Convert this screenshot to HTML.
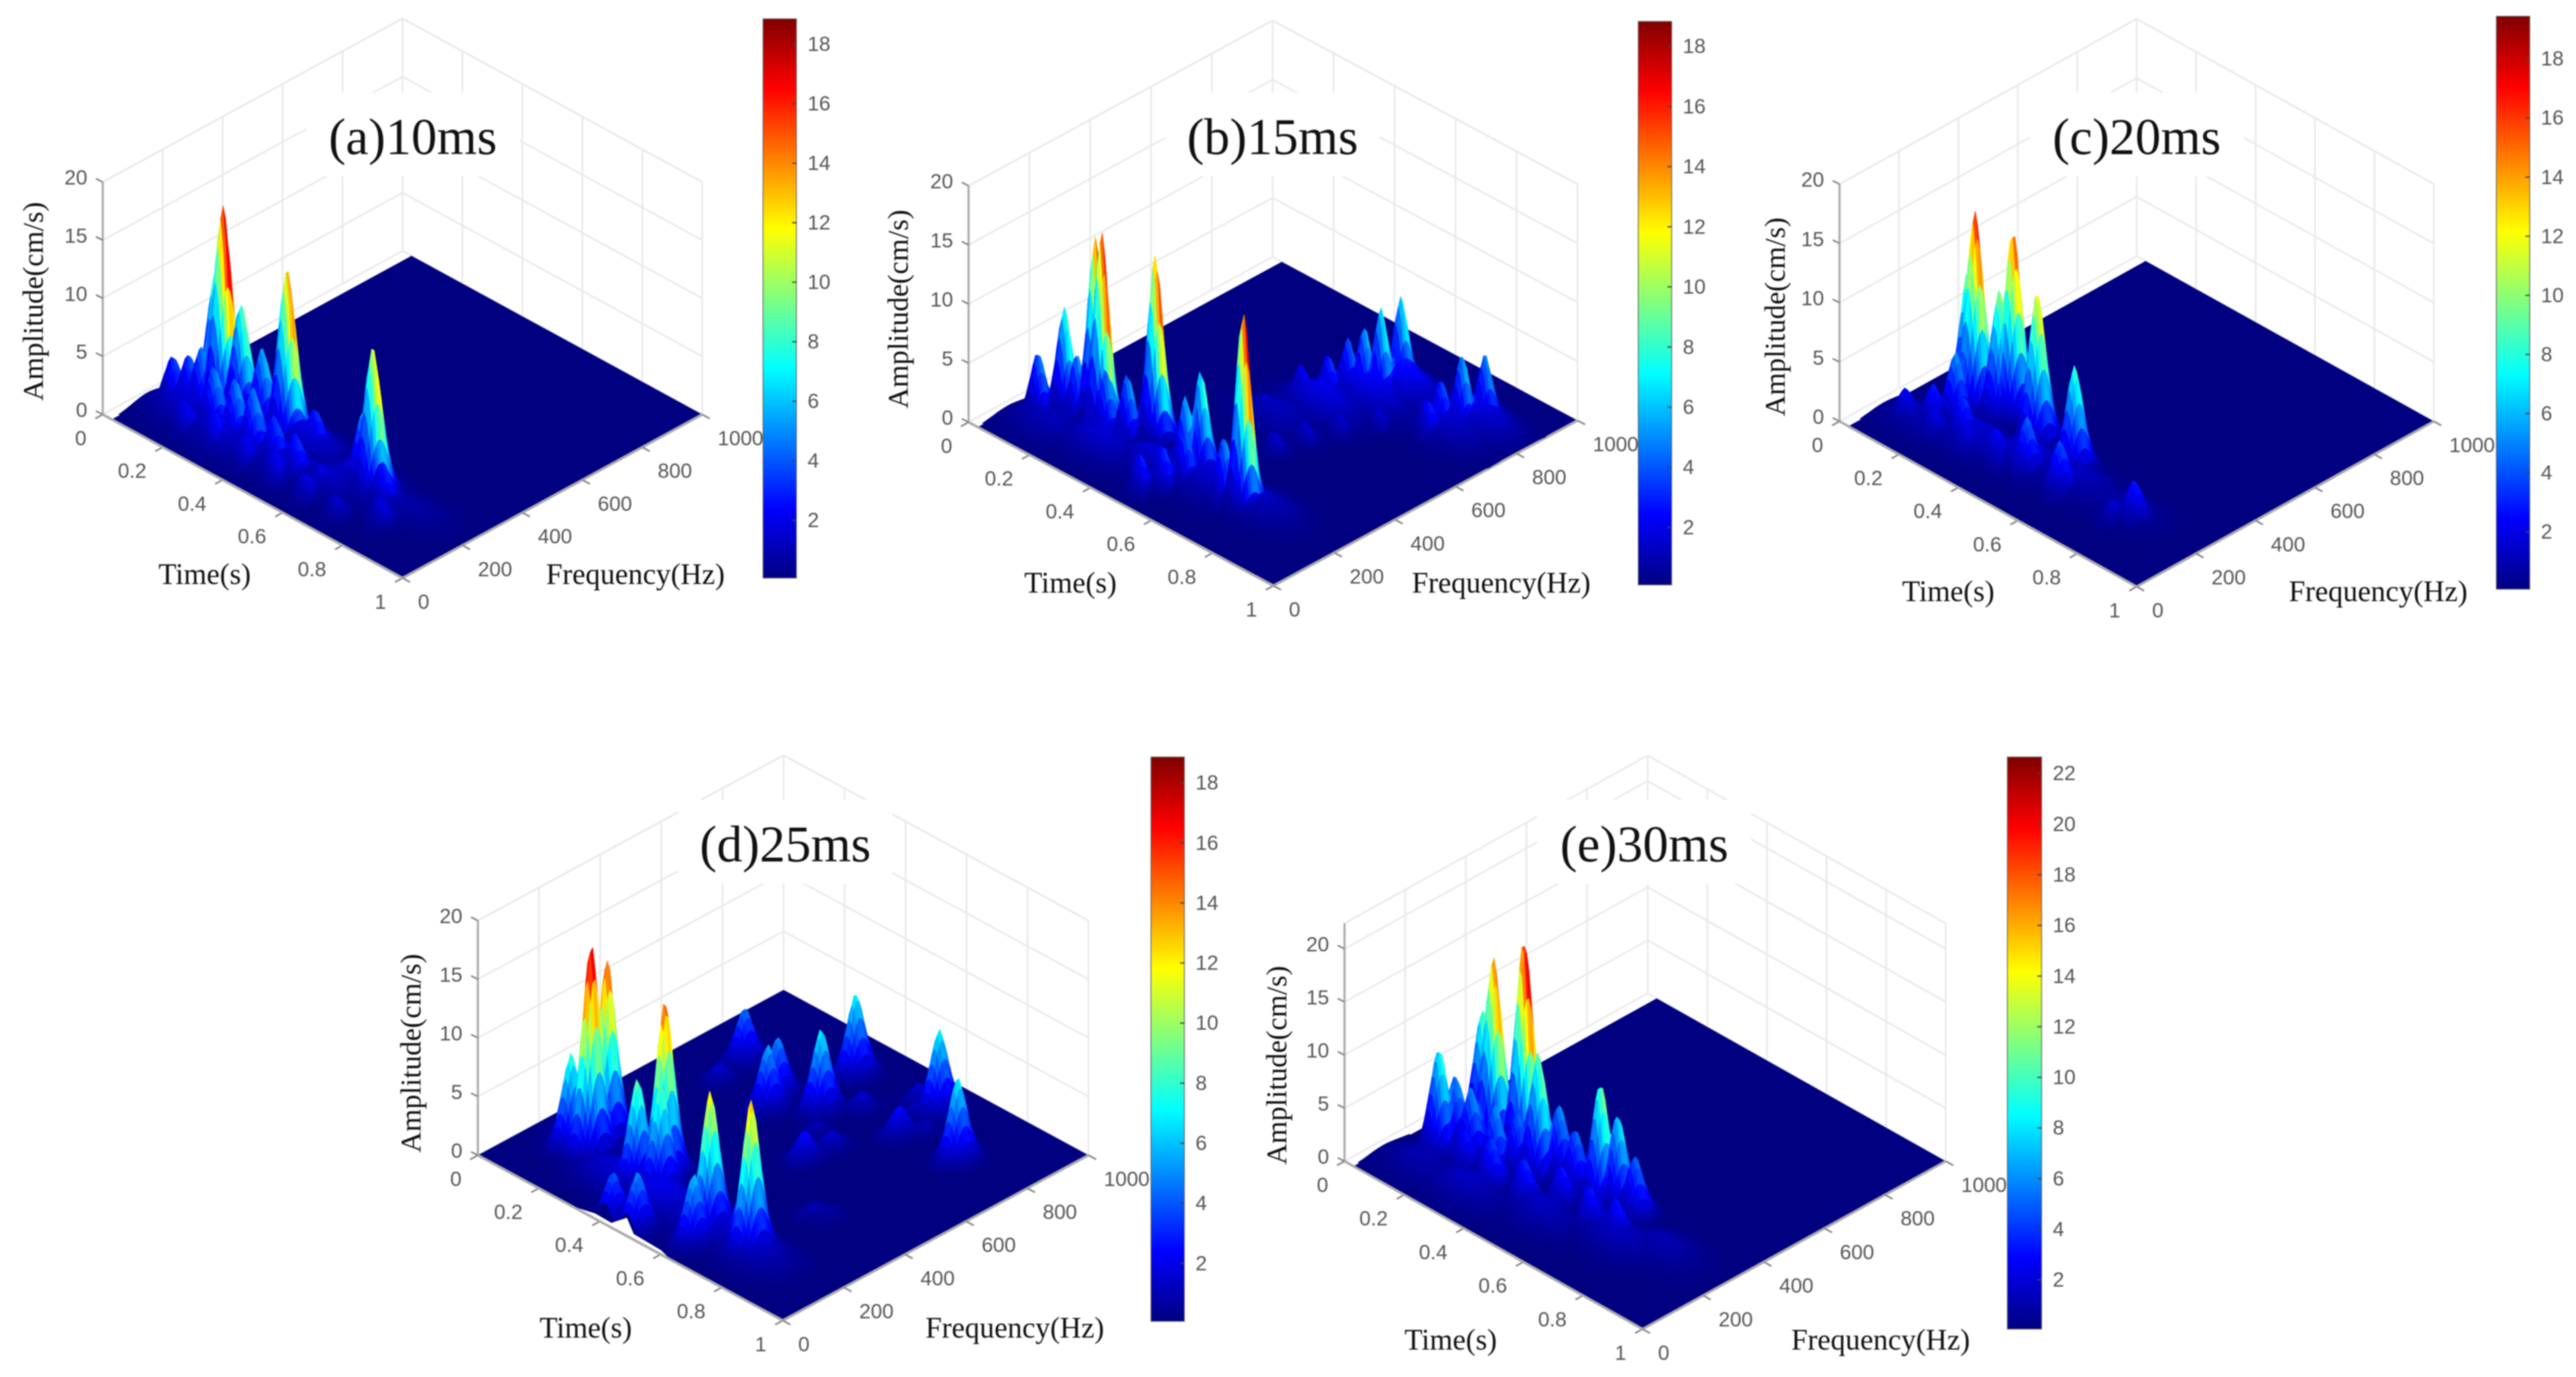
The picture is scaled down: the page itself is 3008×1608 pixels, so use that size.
<!DOCTYPE html>
<html lang="en">
<head>
<meta charset="utf-8">
<title>Time-frequency amplitude surfaces</title>
<style>
html,body{margin:0;padding:0;background:#fff;width:3008px;height:1608px;overflow:hidden}
svg{display:block;filter:blur(0.8px)}
.tick{font-family:"Liberation Sans",sans-serif;font-size:24px;fill:#555}
.axis-label{font-family:"Liberation Serif",serif;font-size:34.5px;fill:#111}
.amp-label{font-family:"Liberation Serif",serif;font-size:34px;fill:#111}
.title{font-family:"Liberation Serif",serif;font-size:60px;fill:#111}
</style>
</head>
<body>
<svg id="chart" xmlns="http://www.w3.org/2000/svg" width="3008" height="1608" viewBox="0 0 3008 1608"></svg>
<script>
const timeTicks=[0,0.2,0.4,0.6,0.8,1];
const freqTicks=[0,200,400,600,800,1000];
const ampTicks=[0,5,10,15,20];
const barTicks19=[2,4,6,8,10,12,14,16,18];
const barTicks23=[2,4,6,8,10,12,14,16,18,20,22];

const aPeakTimes=[.2,.17,.245,.31,.394,.476,.705,.096,.135,.17,.206,.25,.32,.38,.45,.52,.2,.3,.4,.5,.6,.7,.65,.676,.75,.6,.8];
const aPeakFreqs=[200,207,215,220,220,229,195,136,150,157,180,120,120,120,120,120,70,70,70,70,70,70,175,190,180,120,120];
const aPeakAmps=[18,12,10,7,15,4,13,4.5,5,6,5.5,6,6,6,4.5,4,3,3.5,3,3,2.5,2,3,7,4,2.5,2.5];
const aBedTimes=[.15,.3,.45,.6,.75,.25,.45,.65,.82];
const aBedFreqs=[120,100,120,140,180,200,220,200,200];
const aBedAmps=[2.2,2.5,2,1.8,1.5,3,2.5,2,1];

const bPeakTimes=[.246,.215,.366,.13,.096,.183,.28,.328,.545,.528,.718,.678,.53,.5,.553,.62,.62,.594,.55,.53,.48,.47,.84,.86,.81,.81,.6,.62,.65,.7];
const bPeakFreqs=[190,200,247,184,131,171,170,192,217,183,183,159,105,60,155,800,734,705,696,650,610,500,780,835,740,695,400,480,560,640];
const bPeakAmps=[17,16,16,9,5.5,6,6,6,9,7,17,6,4,3.5,5,8,8,6.5,5,4,3,2,6.5,6,4.5,3.5,2,2,2,2];
const bBedTimes=[.15,.3,.45,.6,.75,.5,.55,.6,.62,.82,.85];
const bBedFreqs=[100,120,150,180,200,500,600,700,780,740,810];
const bBedAmps=[1.5,2,2,2,1.5,1.5,2.5,3,3.5,2,2.5];

const cPeakTimes=[.2,.175,.283,.264,.405,.55,.2,.11,.17,.8,.766,.22,.275,.39,.48,.59,.21,.31,.41];
const cPeakFreqs=[255,260,300,274,260,240,190,110,144,190,150,310,140,135,150,150,107,113,120];
const cPeakAmps=[17,12,16,11,13,9,6,2.8,3.5,3.5,2,6,4,3,5,4.5,2.5,2.5,2];
const cBedTimes=[.15,.3,.45,.6,.75];
const cBedFreqs=[120,150,180,200,200];
const cBedAmps=[1.2,2,2,1.5,1];

const dPeakTimes=[.182,.166,.37,.347,.61,.738,.128,.404,.414,.49,.623,.696,.378,.427,.624,.8,.15,.336,.31,.63,.55,.56,.49,.558,.6,.66,.17,.49,.73,.76];
const dPeakFreqs=[189,257,243,176,152,158,177,196,29,34,85,177,859,697,887,772,723,614,672,750,520,600,768,885,840,800,620,620,370,390];
const dPeakAmps=[18,15.5,15,9,12,13,8,9,4,5,6,5,7,7,7,7,4.5,5.5,5,2.5,2.5,1.5,1.5,1.5,1.2,1,1.5,1,1,.7];
const dBedTimes=[.3,.45,.6,.75,.15];
const dBedFreqs=[150,150,150,150,180];
const dBedAmps=[1.5,2,1.8,1.3,.6];

const ePeakTimes=[.208,.152,.297,.38,.135,.149,.57,.6,.657,.408,.477,.3,.33,.21,.227,.33,.43,.5,.61,.69];
const ePeakFreqs=[286,306,300,265,178,218,283,310,310,305,290,200,244,210,168,157,166,220,206,215];
const ePeakAmps=[18,12,21,12,10,7,12,9,6,7,6,7,6,7,4,5,4.5,4,4,4];
const eBedTimes=[.3,.5,.7,.8,.15];
const eBedFreqs=[100,150,200,250,100];
const eBedAmps=[2,2,2,1.5,1.5];

const NS='http://www.w3.org/2000/svg';
const root=document.getElementById('chart');
const jetStops=[[0,0,0,128],[.125,0,0,255],[.375,0,255,255],[.625,255,255,0],[.875,255,0,0],[1,128,0,0]];
function jet(v){
  v=Math.max(0,Math.min(1,v));
  for(let i=1;i<jetStops.length;i++){
    if(v<=jetStops[i][0]){
      const a=jetStops[i-1],b=jetStops[i],m=(v-a[0])/(b[0]-a[0]);
      return 'rgb('+Math.round(a[1]+(b[1]-a[1])*m)+','+Math.round(a[2]+(b[2]-a[2])*m)+','+Math.round(a[3]+(b[3]-a[3])*m)+')';
    }
  }
  return 'rgb(128,0,0)';
}
function make(tag,attrs,parent){
  const el=document.createElementNS(NS,tag);
  for(const k in attrs){el.setAttribute(k,attrs[k]);}
  parent.appendChild(el);
  return el;
}
function drawPanel(c){
  const g=make('g',{},root);
  
  
  const ux=c.bottom[0]-c.left[0],uy=c.bottom[1]-c.left[1],vx=c.right[0]-c.bottom[0],vy=c.right[1]-c.bottom[1];
  const P=(t,f,z)=>[c.left[0]+t*ux+(f/1000)*vx,c.left[1]+t*uy+(f/1000)*vy-z*c.k];
  const line=(a,b,col,w,name,parent)=>{
    const l=make('line',{x1:a[0],y1:a[1],x2:b[0],y2:b[1],stroke:col,'stroke-width':w},parent||g);
    
    
    return l;
  };
  const label=(txt,x,y,anchor,name)=>{
    const t=make('text',{x:x,y:y,'text-anchor':anchor,'class':'tick'},g);
    t.textContent=txt;
    
    
    return t;
  };
  const gridCol='#e9e9e9';
  ampTicks.forEach(z=>{
    line(P(0,0,z),P(0,1000,z),gridCol,2,'left-wall-gridline');
    line(P(0,1000,z),P(1,1000,z),gridCol,2,'right-wall-gridline');
  });
  freqTicks.forEach(f=>{line(P(0,f,0),P(0,f,c.zTop),gridCol,2,'left-wall-gridline');});
  timeTicks.forEach(t=>{line(P(t,1000,0),P(t,1000,c.zTop),gridCol,2,'right-wall-gridline');});
  line(P(0,0,c.zTop),P(0,1000,c.zTop),gridCol,2,'box-top-edge');
  line(P(0,1000,c.zTop),P(1,1000,c.zTop),gridCol,2,'box-top-edge');

  // title mask + title
  const mask=make('rect',{x:c.titleX-125,y:c.titleY-72,width:250,height:98,fill:'#fff'},g);
  
  
  const title=make('text',{x:c.titleX,y:c.titleY,'text-anchor':'middle','class':'title'},g);
  title.textContent=c.title;
  
  

  // floor of the surface
  const ts=c.tStart;
  const floorPts=[P(ts,0,0),P(1,0,0),P(1,1000,0),P(ts,1000,0)].map(p=>p.join(',')).join(' ');
  const floor=make('polygon',{points:floorPts,fill:'rgb(0,0,128)'},g);
  
  

  // axes
  const axisCol='#ababab';
  line(P(0,0,0),P(0,0,c.zTop),axisCol,2.5,'amplitude-axis-line');
  line(P(1,0,0),P(1,1000,0),axisCol,3,'frequency-axis-line');
  ampTicks.forEach(z=>{
    const p=P(0,0,z);
    line(p,[p[0]-8,p[1]-4],'#888',2,'amplitude-tick');
    label(String(z),p[0]-18,p[1]+3,'end','amplitude-tick-label');
  });
  timeTicks.forEach(t=>{
    const p=P(t,0,0);
    line(p,[p[0]-ux*.025,p[1]+Math.abs(vy)*.025],'#888',2,'time-tick');
    label(String(t),p[0]-19,p[1]+36,'end','time-tick-label');
  });
  freqTicks.forEach(f=>{
    const p=P(1,f,0);
    line(p,[p[0]+vx*.025,p[1]+uy*.025],'#888',2,'frequency-tick');
    label(String(f),p[0]+18,p[1]+36,'start','frequency-tick-label');
  });

  // axis titles
  const amp=make('text',{transform:'translate('+c.ampLabel[0]+','+c.ampLabel[1]+') rotate(-90)','text-anchor':'middle','class':'amp-label',y:10},g);
  amp.textContent='Amplitude(cm/s)';
  
  
  const tl=make('text',{x:c.timeLabel[0],y:c.timeLabel[1]+10,'text-anchor':'middle','class':'axis-label'},g);
  tl.textContent='Time(s)';
  
  
  const fl=make('text',{x:c.freqLabel[0],y:c.freqLabel[1]+10,'text-anchor':'middle','class':'axis-label'},g);
  fl.textContent='Frequency(Hz)';
  
  

  // surface
  const spike=d=>Math.exp(-Math.pow(d,.85)/1.6);
  const height=(t,f)=>{
    let m=0;
    for(let i=0;i<c.pT.length;i++){
      const dt=(t-c.pT[i])/c.sT,df=(f-c.pF[i]/1000)/c.sF,d=dt*dt+df*df;
      if(d<30){const h=c.pA[i]*spike(d);if(h>m)m=h;}
    }
    for(let i=0;i<c.bT.length;i++){
      const dt=(t-c.bT[i])/.075,df=(f-c.bF[i]/1000)/.05,d=dt*dt+df*df;
      if(d<18){const h=c.bA[i]*Math.exp(-d/2);if(h>m)m=h;}
    }
    return m;
  };
  const N=125,sg=make('g',{},g);
  
  
  const tOf=i=>ts+(1-ts)*i/N,fOf=j=>j/N;
  const Z=[];
  for(let i=0;i<=N;i++){
    const r=[];
    for(let j=0;j<=N;j++){r.push(height(tOf(i),fOf(j)));}
    Z.push(r);
  }
  for(let i=0;i<N;i++){
    for(let j=N-1;j>=0;j--){
      const z0=Z[i][j],z1=Z[i+1][j],z2=Z[i+1][j+1],z3=Z[i][j+1];
      if(Math.max(z0,z1,z2,z3)<0.12)continue;
      const tc=(tOf(i)+tOf(i+1))/2,fc=(fOf(j)+fOf(j+1))/2;
      const cv=height(tc-c.shift,fc-c.shift);
      const cn=Math.pow(Math.max(0,cv)/c.cMax,c.colorPow);
      const col=jet(cn);
      const a=P(tOf(i),fOf(j)*1000,z0),b=P(tOf(i+1),fOf(j)*1000,z1),d=P(tOf(i+1),fOf(j+1)*1000,z2),e=P(tOf(i),fOf(j+1)*1000,z3);
      const pts=[a,b,d,e].map(p=>p[0].toFixed(1)+','+p[1].toFixed(1)).join(' ');
      const cell=make('polygon',{points:pts,fill:col,stroke:col,'stroke-width':.7},sg);
      
      
    }
  }
  if(c.notch){
    const n=make('polygon',{points:c.notch,fill:'#fff'},g);
    
    
  }
  line(P(0,0,0),P(1,0,0),axisCol,3,'time-axis-line');

  // colorbar
  const gid='grad-'+c.id;
  const defs=make('defs',{},g);
  const lg=make('linearGradient',{id:gid,x1:0,y1:1,x2:0,y2:0},defs);
  jetStops.forEach(s=>{make('stop',{offset:s[0],'stop-color':'rgb('+s[1]+','+s[2]+','+s[3]+')'},lg);});
  const bx=c.bar[0],bw=c.bar[1],by=c.bar[2],bh=c.bar[3];
  const bar=make('rect',{x:bx,y:by,width:bw,height:bh,fill:'url(#'+gid+')',stroke:'#666','stroke-width':1},g);
  
  
  const yOf=v=>by+bh*(1-(v-c.cMin)/(c.cMax-c.cMin));
  c.barTicks.forEach(v=>{
    const y=yOf(v);
    line([bx+bw-5,y],[bx+bw,y],'#444',1.5,'colorbar-tick');
    label(String(v),bx+bw+13,y+8,'start','colorbar-tick-label');
  });
}
const panels=[
 {id:'a',title:'(a)10ms',left:[120,484],bottom:[470,675],right:[820,484],k:13.57,zTop:20,tStart:.03,shift:.008,colorPow:1.15,sT:.019,sF:.03,
  pT:aPeakTimes,pF:aPeakFreqs,pA:aPeakAmps,bT:aBedTimes,bF:aBedFreqs,bA:aBedAmps,cMin:.06,cMax:18.85,bar:[891,39,22,653],barTicks:barTicks19,
  titleX:482,titleY:180,ampLabel:[40,352],timeLabel:[239,672],freqLabel:[742,672]},
 {id:'b',title:'(b)15ms',left:[1131,493],bottom:[1487,684],right:[1842,491],k:13.8,zTop:20,tStart:.03,shift:.007,colorPow:1.12,sT:.016,sF:.024,
  pT:bPeakTimes,pF:bPeakFreqs,pA:bPeakAmps,bT:bBedTimes,bF:bBedFreqs,bA:bBedAmps,cMin:.09,cMax:18.83,bar:[1913,39,25,658],barTicks:barTicks19,
  titleX:1486,titleY:180,ampLabel:[1050,361],timeLabel:[1250,682],freqLabel:[1753,682]},
 {id:'c',title:'(c)20ms',left:[2148,492],bottom:[2495,685],right:[2842,492],k:13.85,zTop:20,tStart:.03,shift:.004,colorPow:1.1,sT:.02,sF:.028,
  pT:cPeakTimes,pF:cPeakFreqs,pA:cPeakAmps,bT:cBedTimes,bF:cBedFreqs,bA:cBedAmps,cMin:.06,cMax:19.44,bar:[2915,39,19,669],barTicks:barTicks19,
  titleX:2495,titleY:180,ampLabel:[2074,370],timeLabel:[2275,692],freqLabel:[2777,692]},
 {id:'d',title:'(d)25ms',left:[558,1349],bottom:[914,1542],right:[1271,1349],k:13.7,zTop:20,tStart:0,shift:0,colorPow:1,sT:.021,sF:.027,
  pT:dPeakTimes,pF:dPeakFreqs,pA:dPeakAmps,bT:dBedTimes,bF:dBedFreqs,bA:dBedAmps,cMin:.07,cMax:18.86,bar:[1344,39,884,659],barTicks:barTicks19,
  notch:'666,1408 695,1417 714,1428 732,1422 740,1441 772,1460 784,1472',
  titleX:917,titleY:1006,ampLabel:[481,1230],timeLabel:[684,1552],freqLabel:[1185,1552]},
 {id:'e',title:'(e)30ms',left:[1570,1356],bottom:[1918,1552],right:[2272,1356],k:12.4,zTop:22.4,tStart:.03,shift:.006,colorPow:1.12,sT:.019,sF:.03,
  pT:ePeakTimes,pF:ePeakFreqs,pA:ePeakAmps,bT:eBedTimes,bF:eBedFreqs,bA:eBedAmps,cMin:.06,cMax:22.65,bar:[2344,40,884,668],barTicks:barTicks23,
  titleX:1920,titleY:1006,ampLabel:[1492,1244],timeLabel:[1694,1566],freqLabel:[2196,1566]}
];
panels.forEach(drawPanel);
</script>
</body>
</html>
